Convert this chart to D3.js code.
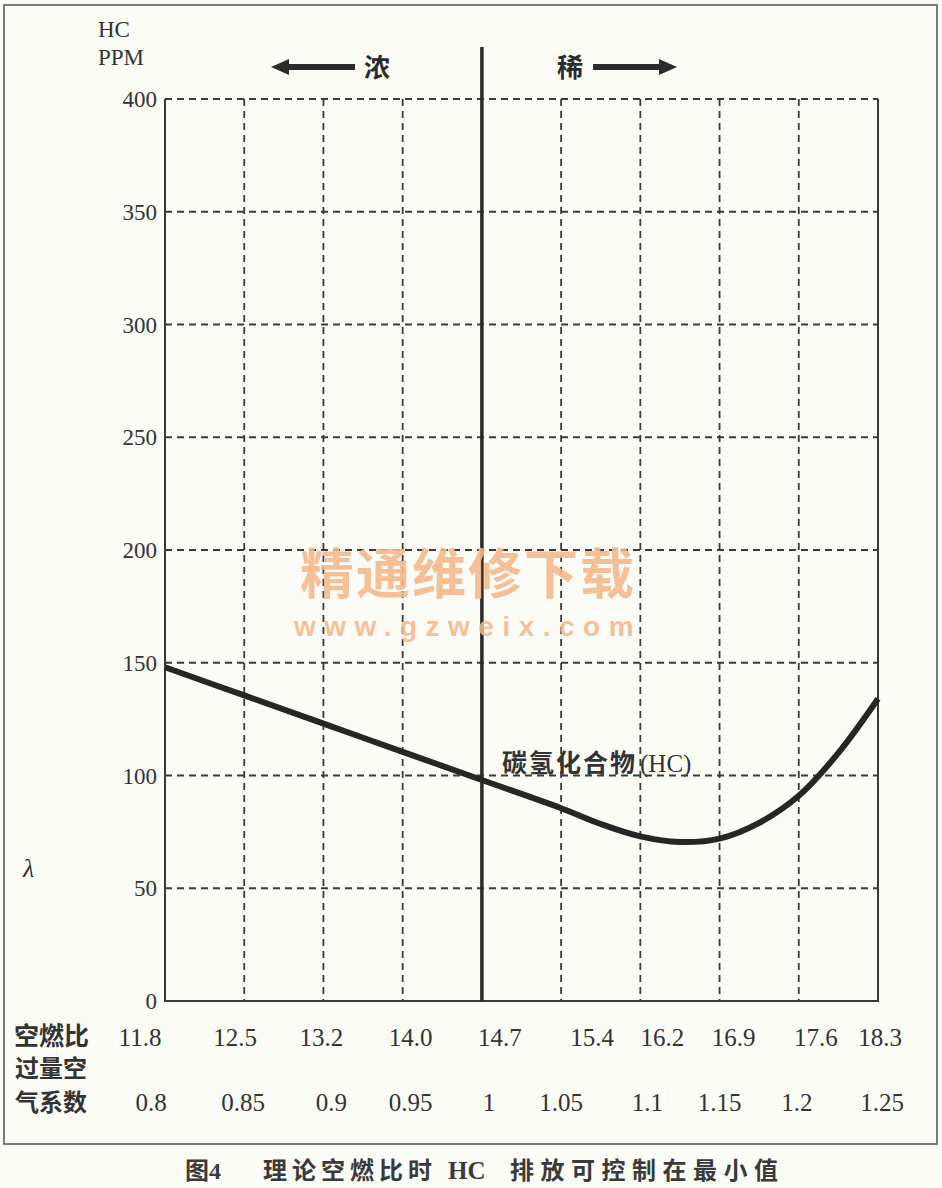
<!DOCTYPE html>
<html>
<head>
<meta charset="utf-8">
<script src="https://cdn.jsdelivr.net/npm/d3@7"></script>
<style>
  html, body { margin: 0; padding: 0; background: #fcfcf7; }
  svg { display: block; }
</style>
</head>
<body>
<svg id="chart" width="942" height="1188"></svg>
<script>
// ---------------- DATA ----------------
const yTicks = [0, 50, 100, 150, 200, 250, 300, 350, 400];
const lambdaTicks = [0.8, 0.85, 0.9, 0.95, 1, 1.05, 1.1, 1.15, 1.2, 1.25];
const lambdaLabels = ["0.8", "0.85", "0.9", "0.95", "1", "1.05", "1.1", "1.15", "1.2", "1.25"];
const afrLabels = ["11.8", "12.5", "13.2", "14.0", "14.7", "15.4", "16.2", "16.9", "17.6", "18.3"];
const curveLambda = [0.8, 0.85, 0.9, 0.95, 1.0, 1.05, 1.075, 1.1, 1.125, 1.15, 1.175, 1.2, 1.225, 1.25];
const curveHC =     [148, 135.5, 123, 110.5, 98, 85.5, 78.5, 73, 70.5, 72, 79, 91, 110, 134];

// ---------------- LAYOUT (label nudges only) ----------------
const afrNudge = [-25, -9, -2, 8, 18, 31, 22, 14, 17, 2];
const lamNudge = [-14, -1, 8, 8, 7, 0, 7, 0, -2, 4];

const svg = d3.select("#chart");
const serif = "'Liberation Serif', 'Times New Roman', serif";
const cjk = "'Noto Sans CJK SC', 'Noto Sans', sans-serif";
const ink = "#2b2b2b";

// background + frame
svg.append("rect").attr("width", 942).attr("height", 1188).attr("fill", "#fcfcf7");
svg.append("rect").attr("x", 4).attr("y", 5).attr("width", 933).attr("height", 1139)
  .attr("fill", "none").attr("stroke", "#5a5a5a").attr("stroke-width", 1.6);

const x = d3.scaleLinear().domain([0.8, 1.25]).range([165, 878]);
const y = d3.scaleLinear().domain([0, 400]).range([1001, 99]);

// horizontal dashed gridlines (incl. top edge)
svg.append("g").selectAll("line").data(yTicks.filter(d => d > 0)).join("line")
  .attr("x1", x(0.8)).attr("x2", x(1.25))
  .attr("y1", d => y(d)).attr("y2", d => y(d))
  .attr("stroke", "#3a3a3a").attr("stroke-width", 1.8).attr("stroke-dasharray", "7,5");

// vertical dashed gridlines
svg.append("g").selectAll("line").data(lambdaTicks.filter(d => d > 0.8 && d < 1.25 && d !== 1)).join("line")
  .attr("x1", d => x(d)).attr("x2", d => x(d))
  .attr("y1", y(400)).attr("y2", y(0))
  .attr("stroke", "#3a3a3a").attr("stroke-width", 1.8).attr("stroke-dasharray", "7,5");

// solid plot edges: left, bottom, right
svg.append("path")
  .attr("d", `M${x(0.8)},${y(400)}V${y(0)}H${x(1.25)}V${y(400)}`)
  .attr("fill", "none").attr("stroke", "#3a3a3a").attr("stroke-width", 2);

// stoichiometric solid line
svg.append("line").attr("x1", x(1)).attr("x2", x(1)).attr("y1", 47).attr("y2", y(0))
  .attr("stroke", ink).attr("stroke-width", 3.5);

// y tick labels
svg.append("g").selectAll("text").data(yTicks).join("text")
  .attr("x", 157).attr("y", d => y(d) + 8)
  .attr("text-anchor", "end")
  .attr("font-family", serif).attr("font-size", 23).attr("fill", "#333")
  .text(d => d);

// axis title
svg.append("text").attr("x", 98).attr("y", 37)
  .attr("font-family", serif).attr("font-size", 23).attr("fill", "#333").text("HC");
svg.append("text").attr("x", 98).attr("y", 65)
  .attr("font-family", serif).attr("font-size", 23).attr("fill", "#333").text("PPM");

// lambda symbol
svg.append("text").attr("x", 23).attr("y", 877)
  .attr("font-family", serif).attr("font-style", "italic").attr("font-size", 26).attr("fill", "#333").text("λ");

// bottom label rows
svg.append("g").selectAll("text").data(afrLabels).join("text")
  .attr("x", (d, i) => x(lambdaTicks[i]) + afrNudge[i]).attr("y", 1046)
  .attr("text-anchor", "middle")
  .attr("font-family", serif).attr("font-size", 25).attr("fill", "#333")
  .text(d => d);
svg.append("g").selectAll("text").data(lambdaLabels).join("text")
  .attr("x", (d, i) => x(lambdaTicks[i]) + lamNudge[i]).attr("y", 1111)
  .attr("text-anchor", "middle")
  .attr("font-family", serif).attr("font-size", 25).attr("fill", "#333")
  .text(d => d);

svg.append("text").attr("x", 14).attr("y", 1045)
  .attr("font-family", cjk).attr("font-weight", 700).attr("font-size", 25).attr("fill", "#333").text("空燃比");
svg.append("text").attr("x", 15).attr("y", 1077)
  .attr("font-family", cjk).attr("font-weight", 700).attr("font-size", 24).attr("fill", "#333").text("过量空");
svg.append("text").attr("x", 15).attr("y", 1111)
  .attr("font-family", cjk).attr("font-weight", 700).attr("font-size", 24).attr("fill", "#333").text("气系数");

// arrows + rich / lean labels
const arrowY = 67;
svg.append("line").attr("x1", 355).attr("x2", 284).attr("y1", arrowY).attr("y2", arrowY)
  .attr("stroke", ink).attr("stroke-width", 6);
svg.append("path").attr("d", `M271,${arrowY}L289,${arrowY - 8}L289,${arrowY + 8}Z`).attr("fill", ink);
svg.append("line").attr("x1", 593).attr("x2", 664).attr("y1", arrowY).attr("y2", arrowY)
  .attr("stroke", ink).attr("stroke-width", 6);
svg.append("path").attr("d", `M677,${arrowY}L659,${arrowY - 8}L659,${arrowY + 8}Z`).attr("fill", ink);
svg.append("text").attr("x", 377).attr("y", 77).attr("text-anchor", "middle")
  .attr("font-family", cjk).attr("font-weight", 700).attr("font-size", 26).attr("fill", ink).text("浓");
svg.append("text").attr("x", 570).attr("y", 77).attr("text-anchor", "middle")
  .attr("font-family", cjk).attr("font-weight", 700).attr("font-size", 26).attr("fill", ink).text("稀");

// watermark
svg.append("text").attr("x", 468).attr("y", 594).attr("text-anchor", "middle")
  .attr("font-family", cjk).attr("font-weight", 700).attr("font-size", 54)
  .attr("letter-spacing", 2)
  .attr("fill", "#f5b98c").attr("fill-opacity", 0.9).text("精通维修下载");
svg.append("text").attr("x", 468).attr("y", 636).attr("text-anchor", "middle")
  .attr("font-family", "'Liberation Sans', Arial, sans-serif").attr("font-weight", 700).attr("font-size", 28)
  .attr("letter-spacing", 8.5)
  .attr("fill", "#f5b98c").attr("fill-opacity", 0.9).text("www.gzweix.com");

// HC curve
const line = d3.line()
  .x((d, i) => x(curveLambda[i]))
  .y(d => y(d))
  .curve(d3.curveCatmullRom.alpha(0.5));
svg.append("path").datum(curveHC)
  .attr("d", line)
  .attr("fill", "none").attr("stroke", "#262626").attr("stroke-width", 6)
  .attr("stroke-linecap", "butt").attr("stroke-linejoin", "round");

// curve label
const lbl = svg.append("text").attr("x", 502).attr("y", 772).attr("fill", "#333");
lbl.append("tspan").attr("font-family", cjk).attr("font-weight", 700).attr("font-size", 25)
  .attr("letter-spacing", 2).text("碳氢化合物");
lbl.append("tspan").attr("font-family", serif).attr("font-size", 25).attr("dx", 3).text("(HC)");

// caption
const cap = svg.append("text").attr("y", 1179).attr("fill", "#3a3a3a").attr("font-weight", 700);
cap.append("tspan").attr("x", 185).attr("font-family", cjk).attr("font-size", 24).text("图");
cap.append("tspan").attr("font-family", serif).attr("font-size", 24).text("4");
cap.append("tspan").attr("x", 263).attr("font-family", cjk).attr("font-size", 24)
  .attr("letter-spacing", 5).text("理论空燃比时");
cap.append("tspan").attr("x", 448).attr("font-family", serif).attr("font-size", 25).text("HC");
cap.append("tspan").attr("x", 510).attr("font-family", cjk).attr("font-size", 24)
  .attr("letter-spacing", 6.5).text("排放可控制在最小值");
</script>
</body>
</html>
